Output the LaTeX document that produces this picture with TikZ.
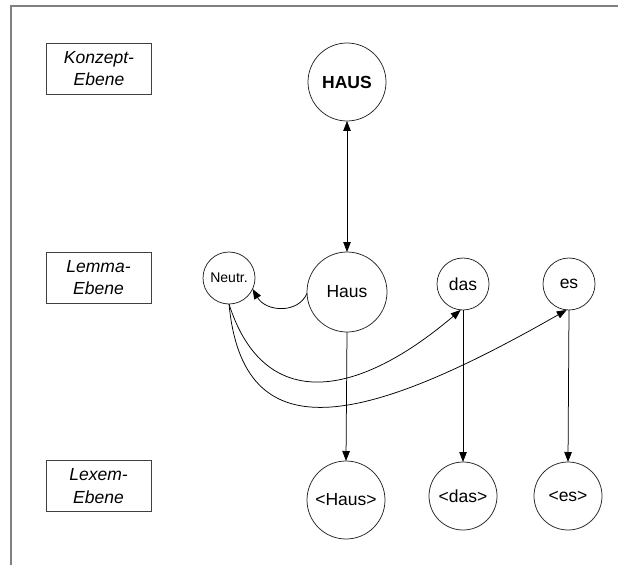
\documentclass[tikz,border=0pt]{standalone}
\usepackage{fontspec}
\setmainfont{Liberation Sans}
\usetikzlibrary{arrows.meta}
\begin{document}
\begin{tikzpicture}[x=1bp,y=-1bp,
  every node/.style={inner sep=0pt, outer sep=0pt},
  base/.style={font=\fontsize{17.5bp}{22.7bp}\selectfont},
  levelbox/.style={base, draw=black!75, line width=0.6bp, minimum width=105bp,
    minimum height=51bp, align=center, font=\fontsize{17.5bp}{22.7bp}\selectfont\itshape},
  unit/.style={base, circle, draw=black!85, line width=0.75bp},
  conn/.style={line width=0.75bp, draw=black},
  arr/.style={conn, -{Triangle[length=10bp,width=7.5bp]}},
  darr/.style={conn, {Triangle[length=10bp,width=7.5bp]}-{Triangle[length=10bp,width=7.5bp]}}
]
% canvas and frame edges
\fill[white] (0,0) rectangle (618,565);
\useasboundingbox (0,0) rectangle (618,565);
\draw[line width=2.2bp, draw=black!50] (11,565) -- (11,6) -- (618,6);

% level labels
\node[levelbox] (konzept) at (99,68.5) {Konzept-\\Ebene};
\node[levelbox] (lemma)   at (98.5,277.5) {Lemma-\\Ebene};
\node[levelbox] (lexem)   at (98.5,486) {Lexem-\\Ebene};

% concept level
\node[unit, minimum size=78bp, font=\fontsize{17.5bp}{20bp}\selectfont\bfseries] (HAUS) at (347,82) {HAUS};

% lemma level
\node[unit, minimum size=80bp] (haus) at (347,292) {Haus};
\node[unit, minimum size=52bp, font=\fontsize{14bp}{16bp}\selectfont] (neutr) at (229,278) {Neutr.};
\node[unit, minimum size=52bp] (das) at (463,284) {das};
\node[unit, minimum size=52bp] (es) at (569,284) {es};

% lexeme level
\node[unit, minimum size=78bp] (lhaus) at (346,500) {<Haus>};
\node[unit, minimum size=68bp] (ldas) at (463,496) {<das>};
\node[unit, minimum size=68bp] (les) at (568,496) {<es>};

% connections
\draw[darr] (HAUS.south) -- (haus.north);
\draw[arr] (haus.182) .. controls (298,314) and (266,312) .. (neutr.-25);
\draw[arr] (haus.south) -- (lhaus.north);
\draw[arr] (das.south) -- (ldas.north);
\draw[arr] (es.south) -- (les.north);
\draw[arr] (neutr.south) .. controls (262,408) and (350,404) .. (das.265);
\draw[arr] (neutr.south) .. controls (243,452) and (360,428) .. (es.265);
\end{tikzpicture}
\end{document}
